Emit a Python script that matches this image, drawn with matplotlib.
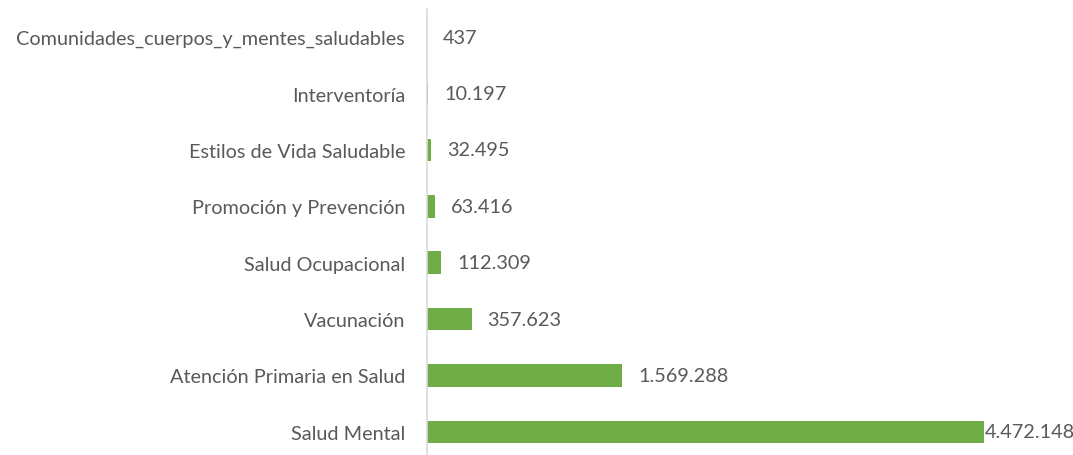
import matplotlib
matplotlib.use("Agg")
import matplotlib.pyplot as plt

categories = ["Salud Mental", "Atención Primaria en Salud", "Vacunación", "Salud Ocupacional",
              "Promoción y Prevención", "Estilos de Vida Saludable", "Interventoría",
              "Comunidades_cuerpos_y_mentes_saludables"]
values = [4472148, 1569288, 357623, 112309, 63416, 32495, 10197, 437]
value_labels = ["4.472.148", "1.569.288", "357.623", "112.309", "63.416", "32.495", "10.197", "437"]

W, H = 1073, 456
fig = plt.figure(figsize=(W / 100, H / 100), dpi=100)
x0, x1 = 427, 1040
y_top, y_bot = 10, 461
ax = fig.add_axes([x0 / W, 1 - y_bot / H, (x1 - x0) / W, (y_bot - y_top) / H])

font = "Lato"
fs = 14.3
tc = "#595959"
bar_end_px = 984
xmax = values[0] * (x1 - x0) / (bar_end_px - x0)

y = list(range(len(categories)))
ax.barh(y, values, height=0.4, color="#70AD47")
ax.set_xlim(0, xmax)
ax.set_ylim(-0.5, len(categories) - 0.5)
ax.set_yticks(y)
ax.set_yticklabels(categories, fontsize=fs, color=tc, family=font)
ax.tick_params(axis="y", length=0, pad=15.8)
ax.set_xticks([])
for s in ["top", "right", "bottom"]:
    ax.spines[s].set_visible(False)
ax.spines["left"].set_color("#D9D9D9")
ax.spines["left"].set_linewidth(1.2)

for i, (v, lab) in enumerate(zip(values, value_labels)):
    off = 0.5 if v == max(values) else 16
    ax.annotate(lab, xy=(v, i), xytext=(off * 0.72, 0), textcoords="offset points",
                ha="left", va="center", fontsize=fs, color=tc, family=font)

fig.savefig("out.png", dpi=100)
